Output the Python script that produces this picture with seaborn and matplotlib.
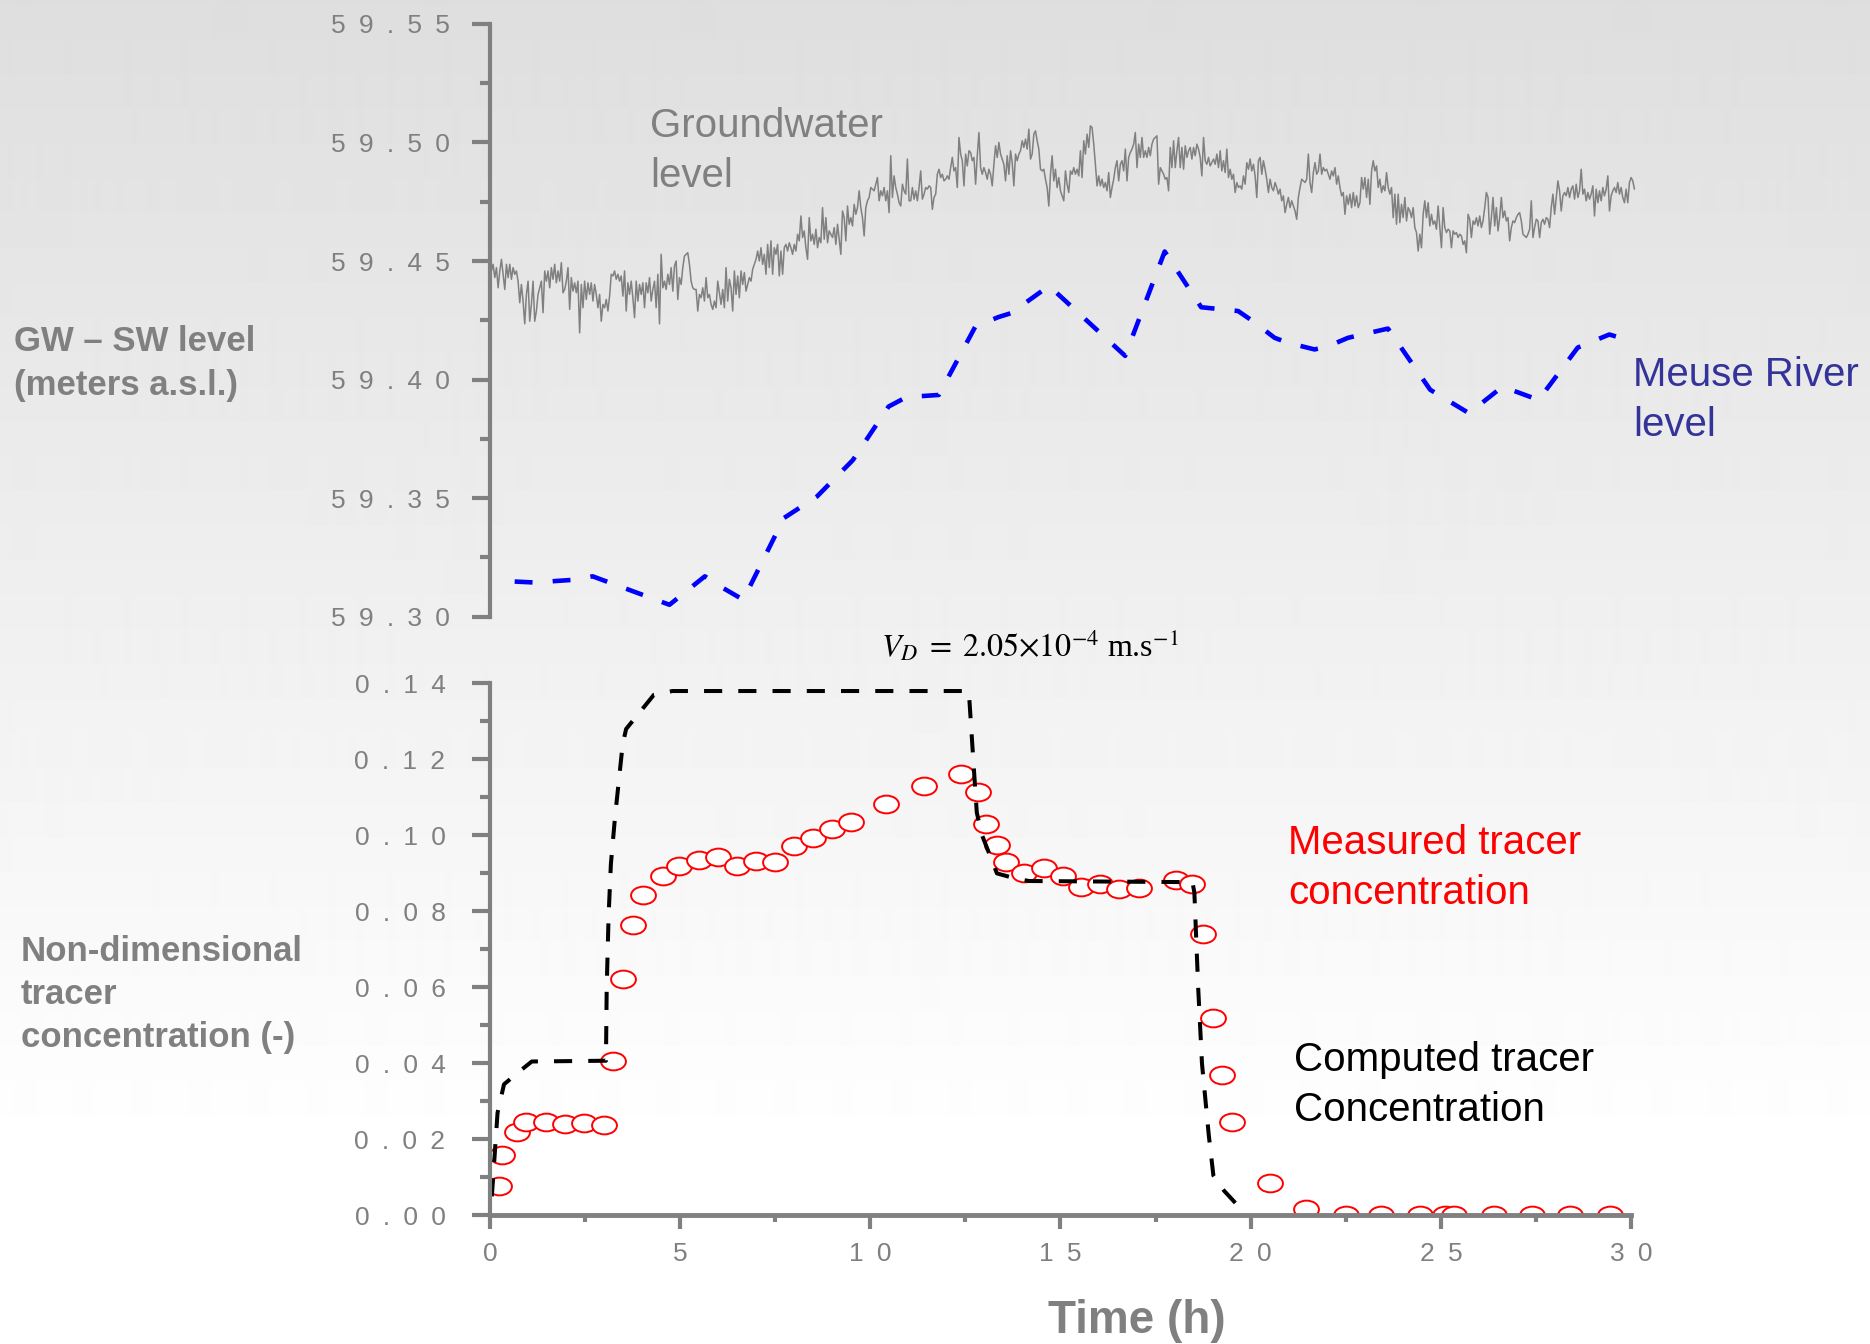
import numpy as np
import matplotlib
matplotlib.use("Agg")
import matplotlib.pyplot as plt
import seaborn as sns
from matplotlib.path import Path
from matplotlib.transforms import Affine2D
from matplotlib.ticker import MultipleLocator

# ============================================================
# Data
# ============================================================

# groundwater level logger (m a.s.l.), regular sampling over the test
gw_level_0_8 = [
    59.4458, 59.4486, 59.4430, 59.4472, 59.4387, 59.4458, 59.4507, 59.4444, 59.4380, 59.4486,
    59.4430, 59.4486, 59.4423, 59.4472, 59.4444, 59.4458, 59.4415, 59.4324, 59.4401, 59.4331,
    59.4235, 59.4359, 59.4415, 59.4246, 59.4317, 59.4415, 59.4246, 59.4289, 59.4359, 59.4387,
    59.4415, 59.4282, 59.4458, 59.4415, 59.4458, 59.4387, 59.4472, 59.4423, 59.4486, 59.4408,
    59.4458, 59.4415, 59.4493, 59.4366, 59.4380, 59.4415, 59.4472, 59.4296, 59.4430, 59.4373,
    59.4408, 59.4366, 59.4415, 59.4197, 59.4401, 59.4303, 59.4415, 59.4338, 59.4408, 59.4359,
    59.4408, 59.4331, 59.4401, 59.4359, 59.4303, 59.4359, 59.4246, 59.4317, 59.4303, 59.4338,
    59.4289, 59.4352, 59.4444, 59.4437, 59.4458, 59.4423, 59.4444, 59.4415, 59.4437, 59.4352,
    59.4458, 59.4289, 59.4408, 59.4359, 59.4415, 59.4345, 59.4261, 59.4415, 59.4331, 59.4401,
    59.4359, 59.4408, 59.4303, 59.4408, 59.4366, 59.4430, 59.4331, 59.4380, 59.4415, 59.4303,
    59.4444, 59.4235, 59.4528, 59.4387, 59.4415, 59.4380, 59.4444, 59.4401, 59.4472, 59.4373,
    59.4479, 59.4500, 59.4338, 59.4430, 59.4401, 59.4472, 59.4521, 59.4528, 59.4535, 59.4486,
    59.4415, 59.4387, 59.4380, 59.4380, 59.4289, 59.4359, 59.4345, 59.4387, 59.4331, 59.4430,
    59.4345, 59.4359, 59.4317, 59.4296, 59.4331, 59.4303, 59.4415, 59.4366, 59.4317, 59.4380,
    59.4303, 59.4472, 59.4331, 59.4423, 59.4387, 59.4289, 59.4458, 59.4359, 59.4437, 59.4345,
    59.4458, 59.4401, 59.4451, 59.4373, 59.4401, 59.4430, 59.4415, 59.4465, 59.4486, 59.4507,
    59.4542, 59.4500, 59.4556, 59.4486, 59.4528, 59.4444, 59.4570, 59.4472, 59.4585, 59.4444,
    59.4556, 59.4528, 59.4570, 59.4437, 59.4542, 59.4444, 59.4556,
]
gw_level_8_15 = [
    59.4570, 59.4542, 59.4577, 59.4556, 59.4528, 59.4570, 59.4542, 59.4613, 59.4585, 59.4690,
    59.4599, 59.4627, 59.4556, 59.4507, 59.4683, 59.4585, 59.4613, 59.4570, 59.4634, 59.4556,
    59.4599, 59.4577, 59.4725, 59.4592, 59.4683, 59.4577, 59.4627, 59.4613, 59.4599, 59.4641,
    59.4570, 59.4655, 59.4592, 59.4528, 59.4711, 59.4683, 59.4585, 59.4732, 59.4655, 59.4683,
    59.4648, 59.4739, 59.4697, 59.4725, 59.4796, 59.4725, 59.4683, 59.4606, 59.4725, 59.4754,
    59.4768, 59.4810, 59.4803, 59.4796, 59.4824, 59.4852, 59.4754, 59.4796, 59.4775, 59.4810,
    59.4754, 59.4796, 59.4704, 59.4944, 59.4768, 59.4859, 59.4810, 59.4782, 59.4746, 59.4732,
    59.4824, 59.4796, 59.4782, 59.4930, 59.4754, 59.4754, 59.4810, 59.4761, 59.4796, 59.4754,
    59.4810, 59.4880, 59.4761, 59.4782, 59.4810, 59.4803, 59.4817, 59.4810, 59.4718, 59.4768,
    59.4782, 59.4866, 59.4887, 59.4852, 59.4866, 59.4838, 59.4845, 59.4859, 59.4845, 59.4894,
    59.4937, 59.4880, 59.4894, 59.4810, 59.5021, 59.4951, 59.4923, 59.4817, 59.4951, 59.4901,
    59.4965, 59.4958, 59.4923, 59.4937, 59.4824, 59.4944, 59.5042, 59.4894, 59.4866, 59.4894,
    59.4873, 59.4845, 59.4887, 59.4866, 59.4817, 59.4908, 59.4986, 59.4937, 59.5000, 59.4951,
    59.4930, 59.4908, 59.4838, 59.4944, 59.4866, 59.4965, 59.4915, 59.4817, 59.4951, 59.4923,
    59.4951, 59.4965, 59.5007, 59.4979, 59.5014, 59.4972, 59.5056, 59.4930, 59.4951, 59.5035,
    59.5049, 59.5007, 59.4972, 59.4887, 59.4880, 59.4887, 59.4845, 59.4810, 59.4732, 59.4866,
    59.4944, 59.4838, 59.4887, 59.4810, 59.4852, 59.4796, 59.4775, 59.4754, 59.4880, 59.4824,
    59.4789, 59.4880, 59.4866, 59.4894,
]
gw_level_15_23 = [
    59.4866, 59.4887, 59.4859, 59.4965, 59.4852, 59.5007, 59.4951, 59.5035, 59.4979, 59.5070,
    59.5063, 59.4993, 59.4908, 59.4817, 59.4859, 59.4817, 59.4845, 59.4810, 59.4831, 59.4796,
    59.4873, 59.4768, 59.4810, 59.4845, 59.4894, 59.4923, 59.4838, 59.4908, 59.4923, 59.4880,
    59.4972, 59.4838, 59.4937, 59.4958, 59.4972, 59.4993, 59.5042, 59.4894, 59.4993, 59.4937,
    59.5021, 59.4937, 59.4965, 59.4937, 59.4979, 59.4944, 59.4993, 59.5014, 59.5021, 59.5028,
    59.4824, 59.4894, 59.4880, 59.4866, 59.4845, 59.4852, 59.4796, 59.4979, 59.4894, 59.5007,
    59.4894, 59.4965, 59.5021, 59.4894, 59.4979, 59.4887, 59.4986, 59.4937, 59.4965, 59.4979,
    59.4930, 59.4979, 59.4944, 59.4993, 59.4972, 59.4937, 59.4859, 59.5021, 59.4923, 59.4908,
    59.4937, 59.4901, 59.4915, 59.4930, 59.4908, 59.4951, 59.4894, 59.4965, 59.4880, 59.4923,
    59.4873, 59.4972, 59.4852, 59.4887, 59.4845, 59.4866, 59.4789, 59.4831, 59.4810, 59.4817,
    59.4803, 59.4859, 59.4824, 59.4915, 59.4887, 59.4930, 59.4880, 59.4908, 59.4859, 59.4768,
    59.4923, 59.4937, 59.4866, 59.4923, 59.4887, 59.4845, 59.4789, 59.4845, 59.4810, 59.4796,
    59.4831, 59.4810, 59.4782, 59.4803, 59.4754, 59.4775, 59.4704, 59.4739, 59.4768, 59.4725,
    59.4754, 59.4732, 59.4711, 59.4676, 59.4768, 59.4810, 59.4845, 59.4838, 59.4831, 59.4845,
    59.4951, 59.4831, 59.4789, 59.4873, 59.4915, 59.4866, 59.4880, 59.4951, 59.4866, 59.4894,
    59.4880, 59.4887, 59.4866, 59.4845, 59.4880, 59.4859, 59.4894, 59.4824, 59.4859, 59.4810,
    59.4775, 59.4789, 59.4697, 59.4775, 59.4739, 59.4782, 59.4725, 59.4789, 59.4732, 59.4775,
    59.4725, 59.4746, 59.4852, 59.4803,
]
gw_level_23_30 = [
    59.4852, 59.4768, 59.4845, 59.4739, 59.4880, 59.4923, 59.4880, 59.4901, 59.4810, 59.4845,
    59.4789, 59.4817, 59.4796, 59.4873, 59.4810, 59.4782, 59.4810, 59.4683, 59.4782, 59.4655,
    59.4782, 59.4662, 59.4739, 59.4683, 59.4768, 59.4669, 59.4725, 59.4711, 59.4683, 59.4725,
    59.4641, 59.4620, 59.4542, 59.4613, 59.4556, 59.4697, 59.4754, 59.4683, 59.4746, 59.4648,
    59.4697, 59.4655, 59.4669, 59.4634, 59.4732, 59.4641, 59.4556, 59.4725, 59.4641, 59.4620,
    59.4634, 59.4627, 59.4556, 59.4627, 59.4613, 59.4620, 59.4599, 59.4613, 59.4606, 59.4570,
    59.4585, 59.4535, 59.4697, 59.4676, 59.4599, 59.4669, 59.4655, 59.4683, 59.4648, 59.4690,
    59.4641, 59.4669, 59.4725, 59.4789, 59.4768, 59.4613, 59.4683, 59.4768, 59.4648, 59.4725,
    59.4627, 59.4683, 59.4768, 59.4683, 59.4711, 59.4669, 59.4683, 59.4585, 59.4641, 59.4669,
    59.4662, 59.4683, 59.4697, 59.4704, 59.4669, 59.4613, 59.4606, 59.4599, 59.4613, 59.4634,
    59.4754, 59.4599, 59.4641, 59.4676, 59.4669, 59.4599, 59.4662, 59.4676, 59.4655, 59.4683,
    59.4676, 59.4641, 59.4725, 59.4782, 59.4697, 59.4768, 59.4838, 59.4796, 59.4711, 59.4775,
    59.4789, 59.4775, 59.4810, 59.4768, 59.4803, 59.4817, 59.4761, 59.4824, 59.4768, 59.4796,
    59.4887, 59.4782, 59.4803, 59.4754, 59.4789, 59.4761, 59.4782, 59.4817, 59.4690, 59.4803,
    59.4746, 59.4796, 59.4754, 59.4810, 59.4775, 59.4803, 59.4859, 59.4711, 59.4775, 59.4796,
    59.4810, 59.4789, 59.4831, 59.4782, 59.4810, 59.4768, 59.4746, 59.4803, 59.4746, 59.4831,
    59.4852, 59.4838, 59.4803,
]
gw_first_hour, gw_last_hour = 0.04, 30.09

# Meuse river level (m a.s.l.)
river_time = [0.65, 1.16, 2.17, 2.7, 4.72, 5.65, 6.06, 6.66, 7.73, 8.6, 9.54, 10.48,
              10.95, 11.8, 12.76, 13.36, 13.7, 14.7, 16.7, 17.74, 18.7, 19.67, 20.06,
              20.63, 20.98, 21.68, 22.03, 22.56, 23.61, 24.72, 25.74, 26.62, 27.57,
              28.6, 29.43, 30.05]
river_level = [59.3148, 59.3144, 59.3155, 59.3170, 59.3050, 59.3170, 59.3127, 59.3071,
               59.3416, 59.3507, 59.3660, 59.3886, 59.3926, 59.3935, 59.4223, 59.4263,
               59.4280, 59.4395, 59.4100, 59.4540, 59.4305, 59.4289, 59.4246, 59.4176,
               59.4155, 59.4127, 59.4140, 59.4176, 59.4215, 59.3957, 59.3858, 59.3970,
               59.3914, 59.4135, 59.4190, 59.4160]

# measured tracer concentration (-)
meas_time = [0.25, 0.33, 0.71, 0.96, 1.47, 1.97, 2.48, 3.0, 3.24, 3.51, 3.76, 4.03,
             4.54, 4.98, 5.5, 6.0, 6.5, 7.0, 7.5, 8.0, 8.5, 9.0, 9.5, 10.4, 11.4,
             12.39, 12.82, 13.05, 13.32, 13.57, 14.05, 14.56, 15.06, 15.55, 16.05,
             16.55, 17.06, 18.04, 18.46, 18.75, 19.0, 19.25, 19.5, 20.5, 21.46, 22.5,
             23.44, 24.44, 25.1, 25.35, 26.4, 27.4, 28.4, 29.44]
meas_conc = [0.0077, 0.016, 0.0219, 0.0246, 0.0246, 0.024, 0.0243, 0.0237, 0.0407,
             0.0623, 0.0765, 0.0844, 0.0892, 0.092, 0.0935, 0.0942, 0.092, 0.0932,
             0.0929, 0.0973, 0.0992, 0.1017, 0.1036, 0.1083, 0.113, 0.1162, 0.1115,
             0.1029, 0.0976, 0.093, 0.0901, 0.0913, 0.0894, 0.0865, 0.0871, 0.0858,
             0.0861, 0.0882, 0.0872, 0.0741, 0.052, 0.0369, 0.0247, 0.0086, 0.0016,
             0.0, 0.0, 0.0, 0.0, 0.0, 0.0, 0.0, 0.0, 0.0]

# computed tracer concentration (-)
comp_time = [0.05, 0.2, 0.37, 0.79, 1.1, 3.05, 3.07, 3.12, 3.18, 3.29, 3.49, 3.58,
             4.31, 4.8, 12.59, 12.72, 12.8, 12.94, 13.33, 13.8, 14.17, 18.47, 18.52,
             18.62, 18.72, 18.9, 19.02, 19.3, 19.9]
comp_conc = [0.005, 0.027, 0.0345, 0.038, 0.0405, 0.0407, 0.06, 0.079, 0.0925, 0.105,
             0.124, 0.128, 0.137, 0.138, 0.138, 0.118, 0.106, 0.1, 0.09, 0.0887, 0.088,
             0.0877, 0.085, 0.06, 0.04, 0.021, 0.0105, 0.0065, 0.0]

level_ticks = [59.30, 59.35, 59.40, 59.45, 59.50, 59.55]
conc_ticks = [0.00, 0.02, 0.04, 0.06, 0.08, 0.10, 0.12, 0.14]
time_ticks = [0, 5, 10, 15, 20, 25, 30]

# ============================================================
# Style
# ============================================================

sns.set_style("ticks")
plt.rcParams['font.family'] = ['Liberation Sans', 'DejaVu Sans']
plt.rcParams['mathtext.fontset'] = 'stix'

GREY = '#808080'
W, H = 1870, 1344

fig = plt.figure(figsize=(W / 100, H / 100), dpi=100)

# grey-to-white slide background
bg = fig.add_axes([0, 0, 1, 1], zorder=-10)
rows = np.arange(H)
shade = np.clip(222 + 33 * rows / 1150, 0, 255) / 255
bg.imshow(shade[:, None], cmap='gray', vmin=0, vmax=1, aspect='auto',
          extent=[0, 1, 0, 1], interpolation='bilinear')
bg.axis('off')


def style_axis(ax):
    for side in ['top', 'right', 'bottom', 'left']:
        ax.spines[side].set_visible(False)
    ax.spines['left'].set_visible(True)
    ax.spines['left'].set_color(GREY)
    ax.spines['left'].set_linewidth(3)
    ax.patch.set_alpha(0)
    ax.set_xlabel('')
    ax.set_ylabel('')


def spaced(s):
    # letter-spaced tick labels, as on the slide
    return "\u2002".join(s)


tick_kw = dict(fontsize=19, color=GREY)

# ============================================================
# Top panel: GW and river levels
# ============================================================

ax1 = fig.add_axes([0.262, 0.5412, 0.6102, 0.4410])

gw_level = gw_level_0_8 + gw_level_8_15 + gw_level_15_23 + gw_level_23_30
gw_time = np.linspace(gw_first_hour, gw_last_hour, len(gw_level))

sns.lineplot(x=gw_time, y=gw_level, ax=ax1, color=GREY, linewidth=1.1,
             estimator=None, sort=False, clip_on=False)
sns.lineplot(x=river_time, y=river_level, ax=ax1, color='#0000ff', linewidth=3.3,
             linestyle=(0, (3.9, 4.4)), estimator=None, sort=False, clip_on=False)

ax1.set_xlim(0, 30)
ax1.set_ylim(59.30, 59.55)
style_axis(ax1)
ax1.set_xticks([])
ax1.set_yticks(level_ticks, labels=[spaced(f"{v:.2f}") for v in level_ticks], **tick_kw)
ax1.yaxis.set_minor_locator(MultipleLocator(0.025))
ax1.tick_params(axis='y', which='major', length=13, width=3, color=GREY,
                pad=16, direction='out', left=True)
ax1.tick_params(axis='y', which='minor', length=7, width=3, color=GREY,
                direction='out', left=True)

# ============================================================
# Bottom panel: tracer concentration
# ============================================================

ax2 = fig.add_axes([0.262, 0.0957, 0.6102, 0.3958])

ellipse = Path.unit_circle().transformed(Affine2D().scale(1.4, 1.0))
sns.scatterplot(x=meas_time, y=meas_conc, ax=ax2, marker=ellipse, s=320,
                facecolor='white', edgecolor='red', linewidth=1.4, zorder=3)
sns.lineplot(x=comp_time, y=comp_conc, ax=ax2, color='black', linewidth=2.9,
             linestyle=(0, (4.5, 4.0)), estimator=None, sort=False, zorder=4)

ax2.set_xlim(0, 30)
ax2.set_ylim(0, 0.14)
style_axis(ax2)
ax2.spines['bottom'].set_visible(True)
ax2.spines['bottom'].set_color(GREY)
ax2.spines['bottom'].set_linewidth(3.5)
ax2.spines['bottom'].set_zorder(5)
ax2.spines['left'].set_zorder(5)

ax2.set_yticks(conc_ticks, labels=[spaced(f"{v:.2f}") for v in conc_ticks], **tick_kw)
ax2.set_xticks(time_ticks, labels=[spaced(str(v)) for v in time_ticks], **tick_kw)
ax2.yaxis.set_minor_locator(MultipleLocator(0.01))
ax2.xaxis.set_minor_locator(MultipleLocator(2.5))
ax2.tick_params(axis='y', which='major', length=13, width=3, color=GREY,
                pad=19, direction='out', left=True)
ax2.tick_params(axis='y', which='minor', length=7, width=3, color=GREY,
                direction='out', left=True)
ax2.tick_params(axis='x', which='major', length=10, width=3, color=GREY,
                pad=9, direction='out', bottom=True)
ax2.tick_params(axis='x', which='minor', length=5, width=3, color=GREY,
                direction='out', bottom=True)

# ============================================================
# Texts
# ============================================================


def put_lines(x_px, baselines_px, lines, **kw):
    for yb, s in zip(baselines_px, lines):
        fig.text(x_px / W, 1 - yb / H, s, va='baseline', ha='left', **kw)


put_lines(650, [137, 187], ["Groundwater", "level"], color=GREY, fontsize=29)
put_lines(1633, [386, 436], ["Meuse River", "level"], color='#333399', fontsize=29)
put_lines(1288, [854, 904], ["Measured tracer", "concentration"], color='red', fontsize=29)
put_lines(1294, [1071, 1121], ["Computed tracer", "Concentration"], color='black', fontsize=29)
put_lines(14, [351, 395], ["GW \u2013 SW level", "(meters a.s.l.)"],
          color=GREY, fontsize=25, fontweight='bold')
put_lines(21, [961, 1004, 1047], ["Non-dimensional", "tracer", "concentration (-)"],
          color=GREY, fontsize=25, fontweight='bold')

fig.text(1137 / W, 1 - 1333 / H, "Time (h)", ha='center', va='baseline',
         color=GREY, fontsize=33, fontweight='bold')
fig.text(1030 / W, 1 - 657 / H,
         r'$V_D\;=\;2.05{\times}10^{-4}$ m.s$^{-1}$',
         ha='center', va='baseline', color='black', fontsize=23,
         fontfamily=['Liberation Serif', 'DejaVu Serif'])

fig.savefig("out.png", dpi=100)
